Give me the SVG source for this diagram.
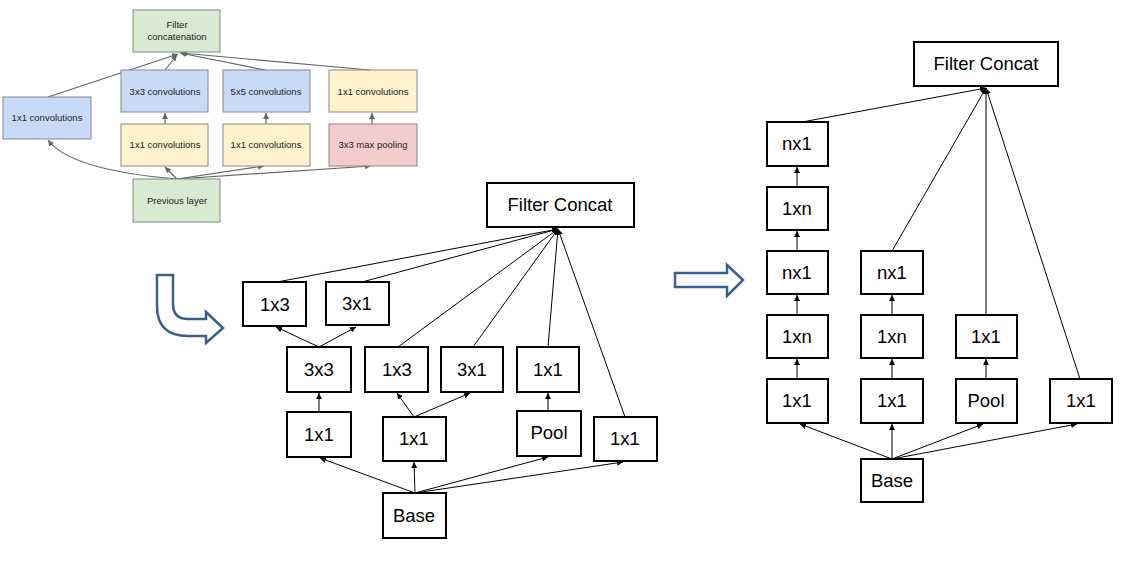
<svg xmlns="http://www.w3.org/2000/svg" width="1121" height="566" viewBox="0 0 1121 566">
<defs>
<marker id="ah" viewBox="0 0 10 10" refX="10" refY="5" markerWidth="6" markerHeight="6" orient="auto" markerUnits="userSpaceOnUse"><path d="M0,0 L10,5 L0,10 Z" fill="#000"/></marker>
<marker id="ag" viewBox="0 0 10 10" refX="10" refY="5" markerWidth="6" markerHeight="6" orient="auto" markerUnits="userSpaceOnUse"><path d="M0,0 L10,5 L0,10 Z" fill="#666"/></marker>
<style>
.sb{stroke:#888;stroke-width:1}
.g{fill:#d9ead3}.b{fill:#c9daf8}.y{fill:#fff2cc}.p{fill:#f4cccc}
.st{font-family:"Liberation Sans",Arial,sans-serif;font-size:9.5px;fill:#222;text-anchor:middle}
.bx{fill:#fff;stroke:#000;stroke-width:2}
.t{font-family:"Liberation Sans",Arial,sans-serif;font-size:18.5px;fill:#000;text-anchor:middle}
.e{stroke:#000;stroke-width:1;fill:none;marker-end:url(#ah)}
.eg{stroke:#666;stroke-width:1.2;fill:none;marker-end:url(#ag)}
.arr{fill:#fff;stroke:#3d5d8c;stroke-width:2.5;stroke-linejoin:miter}
</style>
</defs>
<rect width="1121" height="566" fill="#fff"/>

<!-- Top-left original inception module -->
<g id="connectors-small">
<path class="eg" d="M48,97 L178,54"/>
<path class="eg" d="M165,70 L177,55"/>
<path class="eg" d="M265,70 L180,53"/>
<path class="eg" d="M370,70 L181,53"/>
<path class="eg" d="M165,124 L165,113"/>
<path class="eg" d="M266,124 L266,113"/>
<path class="eg" d="M372,124 L372,113"/>
<path class="eg" d="M177,179 Q70,170 48,140"/>
<path class="eg" d="M177,179 L165,167"/>
<path class="eg" d="M177,179 L264,166"/>
<path class="eg" d="M177,179 L371,166"/>
</g>
<g id="s-filter"><rect class="sb g" x="133" y="10" width="87" height="42"/><text class="st" x="177" y="28">Filter</text><text class="st" x="177" y="40">concatenation</text></g>
<g id="s-1x1-left"><rect class="sb b" x="3" y="97" width="88" height="42"/><text class="st" x="47" y="121">1x1 convolutions</text></g>
<g id="s-3x3"><rect class="sb b" x="121" y="70" width="87" height="42"/><text class="st" x="165" y="95">3x3 convolutions</text></g>
<g id="s-5x5"><rect class="sb b" x="223" y="70" width="87" height="42"/><text class="st" x="266" y="95">5x5 convolutions</text></g>
<g id="s-1x1-pool"><rect class="sb y" x="329" y="70" width="88" height="42"/><text class="st" x="373" y="95">1x1 convolutions</text></g>
<g id="s-1x1-a"><rect class="sb y" x="121" y="124" width="87" height="42"/><text class="st" x="165" y="148">1x1 convolutions</text></g>
<g id="s-1x1-b"><rect class="sb y" x="223" y="124" width="87" height="42"/><text class="st" x="266" y="148">1x1 convolutions</text></g>
<g id="s-maxpool"><rect class="sb p" x="329" y="124" width="88" height="42"/><text class="st" x="373" y="148">3x3 max pooling</text></g>
<g id="s-prev"><rect class="sb g" x="133" y="179" width="87" height="43"/><text class="st" x="177" y="204">Previous layer</text></g>

<!-- Arrows between diagrams -->
<path id="curved-arrow" class="arr" d="M157,275 L173,275 L173,304 Q173,319 188,319 L206,319 L206,312 L223,328 L206,343 L206,336 L188,336 Q157,336 157,306 Z"/>
<path id="right-arrow" class="arr" d="M675,273 L727,273 L727,265 L743,280 L727,296 L727,287 L675,287 Z"/>

<!-- Middle diagram connectors -->
<g id="connectors-middle">
<path class="e" d="M415,493 L320,458"/>
<path class="e" d="M415,493 L414,462"/>
<path class="e" d="M415,493 L548,457"/>
<path class="e" d="M415,493 L623,462"/>
<path class="e" d="M319,412 L319,393"/>
<path class="e" d="M414,417 L397,393"/>
<path class="e" d="M414,417 L470,393"/>
<path class="e" d="M548,411 L548,393"/>
<path class="e" d="M319,347 L276,327"/>
<path class="e" d="M319,347 L356,327"/>
<path class="e" d="M277,282 L558,229"/>
<path class="e" d="M362,282 L558,229"/>
<path class="e" d="M398,347 L558,229"/>
<path class="e" d="M473,347 L558,229"/>
<path class="e" d="M548,347 L558,229"/>
<path class="e" d="M625,417 L558,229"/>
</g>
<g id="m-fc"><rect class="bx" x="487" y="183" width="147" height="44"/><text class="t" x="560" y="211">Filter Concat</text></g>
<g id="m-1x3a"><rect class="bx" x="243" y="282" width="63" height="44"/><text class="t" x="275" y="311">1x3</text></g>
<g id="m-3x1a"><rect class="bx" x="326" y="282" width="63" height="43"/><text class="t" x="357" y="310">3x1</text></g>
<g id="m-3x3"><rect class="bx" x="287" y="347" width="64" height="45"/><text class="t" x="319" y="376">3x3</text></g>
<g id="m-1x3b"><rect class="bx" x="365" y="347" width="63" height="45"/><text class="t" x="397" y="376">1x3</text></g>
<g id="m-3x1b"><rect class="bx" x="441" y="347" width="62" height="45"/><text class="t" x="472" y="376">3x1</text></g>
<g id="m-1x1p"><rect class="bx" x="517" y="347" width="62" height="45"/><text class="t" x="548" y="376">1x1</text></g>
<g id="m-1x1a"><rect class="bx" x="287" y="412" width="64" height="45"/><text class="t" x="319" y="441">1x1</text></g>
<g id="m-1x1b"><rect class="bx" x="383" y="417" width="63" height="44"/><text class="t" x="414" y="445">1x1</text></g>
<g id="m-pool"><rect class="bx" x="517" y="411" width="64" height="45"/><text class="t" x="549" y="439">Pool</text></g>
<g id="m-1x1c"><rect class="bx" x="594" y="417" width="63" height="44"/><text class="t" x="625" y="445">1x1</text></g>
<g id="m-base"><rect class="bx" x="383" y="493" width="63" height="45"/><text class="t" x="414" y="522">Base</text></g>

<!-- Right diagram connectors -->
<g id="connectors-right">
<path class="e" d="M892,459 L800,424"/>
<path class="e" d="M892,459 L892,424"/>
<path class="e" d="M892,459 L983,424"/>
<path class="e" d="M892,459 L1077,424"/>
<path class="e" d="M797,379 L797,359"/>
<path class="e" d="M797,315 L797,295"/>
<path class="e" d="M797,251 L797,231"/>
<path class="e" d="M797,187 L797,167"/>
<path class="e" d="M892,379 L892,359"/>
<path class="e" d="M892,315 L892,295"/>
<path class="e" d="M986,379 L986,359"/>
<path class="e" d="M802,122 L986,88"/>
<path class="e" d="M892,251 L986,88"/>
<path class="e" d="M986,315 L986,88"/>
<path class="e" d="M1080,379 L986,88"/>
</g>
<g id="r-fc"><rect class="bx" x="914" y="42" width="144" height="44"/><text class="t" x="986" y="70">Filter Concat</text></g>
<g id="r-c1-nx1a"><rect class="bx" x="767" y="122" width="61" height="44"/><text class="t" x="797" y="150">nx1</text></g>
<g id="r-c1-1xna"><rect class="bx" x="767" y="187" width="61" height="43"/><text class="t" x="797" y="215">1xn</text></g>
<g id="r-c1-nx1b"><rect class="bx" x="767" y="251" width="61" height="43"/><text class="t" x="797" y="279">nx1</text></g>
<g id="r-c1-1xnb"><rect class="bx" x="767" y="315" width="61" height="43"/><text class="t" x="797" y="343">1xn</text></g>
<g id="r-c1-1x1"><rect class="bx" x="767" y="379" width="61" height="44"/><text class="t" x="797" y="407">1x1</text></g>
<g id="r-c2-nx1"><rect class="bx" x="861" y="251" width="62" height="43"/><text class="t" x="892" y="279">nx1</text></g>
<g id="r-c2-1xn"><rect class="bx" x="861" y="315" width="62" height="43"/><text class="t" x="892" y="343">1xn</text></g>
<g id="r-c2-1x1"><rect class="bx" x="861" y="379" width="62" height="44"/><text class="t" x="892" y="407">1x1</text></g>
<g id="r-c3-1x1"><rect class="bx" x="956" y="315" width="61" height="43"/><text class="t" x="986" y="343">1x1</text></g>
<g id="r-c3-pool"><rect class="bx" x="956" y="379" width="61" height="44"/><text class="t" x="986" y="407">Pool</text></g>
<g id="r-c4-1x1"><rect class="bx" x="1050" y="379" width="62" height="44"/><text class="t" x="1081" y="407">1x1</text></g>
<g id="r-base"><rect class="bx" x="861" y="459" width="62" height="43"/><text class="t" x="892" y="487">Base</text></g>
</svg>
